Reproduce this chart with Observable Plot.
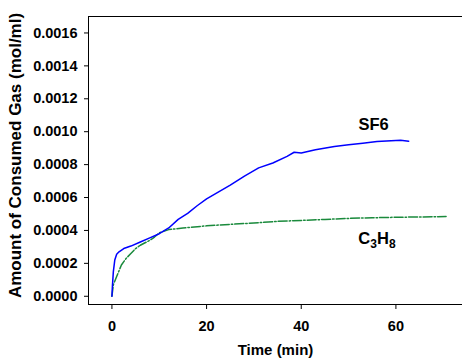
<!DOCTYPE html>
<html>
<head>
<meta charset="utf-8">
<script src="https://cdn.jsdelivr.net/npm/d3@7"></script>
<script src="https://cdn.jsdelivr.net/npm/@observablehq/plot@0.6"></script>
<style>
  html, body { margin: 0; padding: 0; background: #fff; }
  #chart svg { font-family: "Liberation Sans", Arial, sans-serif; font-weight: bold; }
</style>
</head>
<body>
<div id="chart"></div>
<script>
const sf6Time = [0, 0.1, 0.3, 0.6, 1.0, 1.5, 2.5, 4, 6, 8, 10, 12, 14, 16, 18, 20, 22, 25, 28, 31, 34, 37, 38.5, 40, 43, 47, 50, 53, 56, 59, 61, 62.7];
const sf6Gas = [0, 0.00006, 0.00015, 0.00022, 0.000255, 0.00027, 0.00029, 0.000305, 0.00033, 0.000355, 0.00038, 0.000415, 0.000467, 0.000504, 0.00055, 0.000592, 0.000625, 0.000675, 0.00073, 0.00078, 0.00081, 0.00085, 0.000875, 0.00087, 0.00089, 0.00091, 0.00092, 0.00093, 0.00094, 0.000945, 0.000948, 0.000942];

const c3h8Time = [0, 0.3, 1, 2, 3, 4, 5, 6, 7, 8, 9, 10, 12, 15, 20, 25, 30, 35, 40, 45, 50, 55, 60, 65, 70.6];
const c3h8Gas = [0, 0.00007, 0.00012, 0.00019, 0.00023, 0.00026, 0.00029, 0.00031, 0.000325, 0.00034, 0.00036, 0.000385, 0.000405, 0.000415, 0.000428, 0.000437, 0.000445, 0.000455, 0.000461, 0.000467, 0.000473, 0.000477, 0.00048, 0.000482, 0.000484];

const xTicks = [0, 20, 40, 60];
const yTicks = [0, 0.0002, 0.0004, 0.0006, 0.0008, 0.0010, 0.0012, 0.0014, 0.0016];

const labelNames = ["SF6", "C3H8"];
const labelTime = [55.3, 56];
const labelGas = [0.00104, 0.00035];

const sf6 = sf6Time.map((t, i) => ({t, v: sf6Gas[i]}));
const c3h8 = c3h8Time.map((t, i) => ({t, v: c3h8Gas[i]}));
const labels = labelNames.map((n, i) => ({n, t: labelTime[i], v: labelGas[i]}));

const yTitle = "Amount of Consumed Gas (mol/ml)";

const chart = Plot.plot({
  width: 462,
  height: 360,
  marginLeft: 88,
  marginRight: 0,
  marginTop: 16,
  marginBottom: 56,
  style: {fontSize: "14.5px", fontFamily: "Liberation Sans, Arial, sans-serif", fontWeight: "bold", background: "#fff"},
  x: {domain: [-4.95, 74.07]},
  y: {domain: [-0.00005, 0.0017]},
  marks: [
    Plot.axisX({ticks: xTicks, tickSize: 5, tickPadding: 11, label: null, fontSize: 14.5}),
    Plot.axisX({ticks: [], label: "Time (min)", labelAnchor: "center", labelArrow: "none", labelOffset: 50, fontSize: 15}),
    Plot.axisY({ticks: yTicks, tickSize: 4, tickPadding: 7, tickFormat: d3.format(".4f"), label: null, fontSize: 14.5}),
    Plot.axisY({ticks: [], label: yTitle, labelAnchor: "center", labelArrow: "none", labelOffset: 80, fontSize: 17}),
    Plot.frame({anchor: "top"}),
    Plot.frame({anchor: "left"}),
    Plot.frame({anchor: "bottom"}),
    Plot.line(c3h8, {x: "t", y: "v", stroke: "#1a8a3c", strokeWidth: 1.5, strokeDasharray: "9,2,1.5,2"}),
    Plot.line(sf6, {x: "t", y: "v", stroke: "#0000ff", strokeWidth: 1.5}),
    Plot.text(labels, {x: "t", y: "v", text: "n", fontSize: 16.5, fontWeight: "bold", fill: "#000"})
  ]
});
document.getElementById("chart").appendChild(chart);

d3.select(chart).selectAll("text").filter(function() { return this.textContent === "C3H8"; }).each(function() {
  const el = d3.select(this);
  el.text(null);
  el.append("tspan").text("C");
  el.append("tspan").attr("font-size", "12px").attr("dy", "4").text("3");
  el.append("tspan").attr("dy", "-4").text("H");
  el.append("tspan").attr("font-size", "12px").attr("dy", "4").text("8");
});
d3.select(chart).selectAll("text").filter(function() { return this.textContent === yTitle; }).attr("dx", 5);
</script>
</body>
</html>
